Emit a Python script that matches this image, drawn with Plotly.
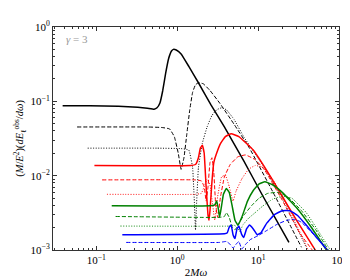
import numpy as np
import plotly.graph_objects as go

# log10(2Mω) and log10((M/E^2) dE/dω)
k_solid_lx = [-1.417, -1.083, -0.726, -0.488, -0.369, -0.286, -0.25, -0.214, -0.179, -0.143, -0.107, -0.071, -0.048, -0.012, 0.048, 0.143, 0.262, 0.417, 0.583, 0.821, 1.060, 1.381]
k_solid_ly = [-1.061, -1.061, -1.067, -1.080, -1.093, -1.106, -1.087, -1.022, -0.854, -0.621, -0.427, -0.323, -0.301, -0.310, -0.362, -0.530, -0.750, -1.048, -1.345, -1.798, -2.277, -2.898]

k_dash_lx = [-1.238, -0.369, -0.190, -0.095, -0.036, 0.012, 0.048, 0.083, 0.119, 0.155, 0.190, 0.226, 0.262, 0.321, 0.405, 0.524, 0.702, 0.893, 1.179, 1.536]
k_dash_ly = [-1.345, -1.345, -1.352, -1.371, -1.475, -1.695, -1.915, -1.759, -1.436, -1.113, -0.880, -0.776, -0.750, -0.763, -0.854, -1.022, -1.307, -1.630, -2.212, -2.963]

k_dot_lx = [-1.107, -0.25, 0.048, 0.143, 0.190, 0.214, 0.226, 0.238, 0.262, 0.310, 0.369, 0.429, 0.488, 0.548, 0.607, 0.702, 0.821, 1.060, 1.298, 1.595]
k_dot_ly = [-1.630, -1.630, -1.636, -1.656, -1.889, -2.406, -2.730, -2.406, -1.889, -1.565, -1.345, -1.190, -1.113, -1.087, -1.113, -1.242, -1.475, -1.863, -2.303, -2.963]

r_solid_lx = [-1.024, 0.167, 0.226, 0.262, 0.286, 0.310, 0.333, 0.357, 0.381, 0.393, 0.405, 0.429, 0.452, 0.488, 0.536, 0.595, 0.667, 0.762, 0.940, 1.119, 1.298, 1.476, 1.714]
r_solid_ly = [-1.863, -1.863, -1.850, -1.759, -1.630, -1.591, -1.695, -2.147, -2.536, -2.600, -2.471, -2.083, -1.824, -1.695, -1.565, -1.475, -1.436, -1.475, -1.656, -1.953, -2.277, -2.600, -3.014]

r_dash_lx = [-0.929, 0.226, 0.298, 0.333, 0.357, 0.381, 0.405, 0.429, 0.452, 0.476, 0.5, 0.536, 0.583, 0.655, 0.75, 0.845, 0.964, 1.083, 1.298, 1.512, 1.679]
r_dash_ly = [-2.057, -2.057, -2.070, -2.147, -2.342, -2.147, -1.824, -1.759, -1.953, -2.406, -2.561, -2.277, -2.018, -1.850, -1.746, -1.721, -1.785, -1.928, -2.329, -2.768, -3.014]

r_dot_lx = [-0.869, 0.226, 0.298, 0.333, 0.369, 0.405, 0.440, 0.464, 0.5, 0.548, 0.595, 0.643, 0.690, 0.726, 0.798, 0.881, 0.964, 1.060, 1.179, 1.393, 1.619]
r_dot_ly = [-2.251, -2.251, -2.238, -2.147, -2.044, -2.122, -2.406, -2.600, -2.277, -2.018, -1.992, -2.147, -2.342, -2.212, -2.044, -1.915, -1.863, -1.889, -2.044, -2.471, -3.001]

g_solid_lx = [-0.810, 0.405, 0.464, 0.488, 0.512, 0.524, 0.548, 0.571, 0.607, 0.643, 0.679, 0.714, 0.75, 0.798, 0.869, 0.940, 1.012, 1.083, 1.179, 1.298, 1.476, 1.655, 1.845]
g_solid_ly = [-2.406, -2.406, -2.393, -2.342, -2.471, -2.561, -2.406, -2.251, -2.173, -2.225, -2.406, -2.600, -2.665, -2.561, -2.342, -2.199, -2.109, -2.083, -2.122, -2.225, -2.432, -2.691, -3.001]

g_dash_lx = [-0.762, 0.524, 0.583, 0.607, 0.643, 0.679, 0.714, 0.762, 0.821, 0.917, 1.012, 1.119, 1.238, 1.357, 1.536, 1.714, 1.869]
g_dash_ly = [-2.549, -2.561, -2.549, -2.497, -2.561, -2.691, -2.730, -2.639, -2.536, -2.406, -2.303, -2.238, -2.225, -2.277, -2.471, -2.730, -3.001]

g_dot_lx = [-0.702, 0.643, 0.702, 0.738, 0.774, 0.810, 0.881, 0.964, 1.060, 1.179, 1.298, 1.417, 1.595, 1.774, 1.893]
g_dot_ly = [-2.678, -2.678, -2.665, -2.691, -2.756, -2.665, -2.574, -2.497, -2.406, -2.316, -2.277, -2.303, -2.497, -2.794, -3.001]

b_solid_lx = [-0.679, 0.583, 0.619, 0.643, 0.667, 0.690, 0.714, 0.738, 0.762, 0.798, 0.821, 0.857, 0.893, 0.940, 0.988, 1.036, 1.107, 1.202, 1.298, 1.393, 1.488, 1.595, 1.714, 1.857]
b_solid_ly = [-2.794, -2.781, -2.768, -2.691, -2.665, -2.794, -2.846, -2.717, -2.678, -2.794, -2.833, -2.717, -2.665, -2.717, -2.794, -2.768, -2.639, -2.523, -2.471, -2.471, -2.536, -2.665, -2.820, -3.001]

b_dash_lx = [-0.631, 0.524, 0.607, 0.655, 0.690, 0.726, 0.762, 0.798, 0.845, 0.905, 1.0, 1.119, 1.238, 1.357, 1.452, 1.536, 1.655, 1.774, 1.869]
b_dash_ly = [-2.898, -2.898, -2.885, -2.924, -2.975, -2.924, -2.885, -2.988, -2.924, -2.859, -2.807, -2.730, -2.652, -2.600, -2.587, -2.626, -2.756, -2.898, -3.014]

x_tickvals = [0.1, 1, 10, 100]
x_ticktext = ["10<sup>−1</sup>", "10<sup>0</sup>", "10<sup>1</sup>", "10<sup>2</sup>"]
y_tickvals = [0.001, 0.01, 0.1, 1]
y_ticktext = ["10<sup>−3</sup>", "10<sup>−2</sup>", "10<sup>−1</sup>", "10<sup>0</sup>"]

series = [
    (k_solid_lx, k_solid_ly, "black", "solid", 1.5),
    (k_dash_lx, k_dash_ly, "black", "4px,2px", 1.0),
    (k_dot_lx, k_dot_ly, "black", "1px,1.6px", 1.0),
    (r_solid_lx, r_solid_ly, "#ff0000", "solid", 1.5),
    (r_dash_lx, r_dash_ly, "#ff0000", "4px,2px", 1.0),
    (r_dot_lx, r_dot_ly, "#ff0000", "1px,1.6px", 1.0),
    (g_solid_lx, g_solid_ly, "#008000", "solid", 1.5),
    (g_dash_lx, g_dash_ly, "#008000", "4px,2px", 1.0),
    (g_dot_lx, g_dot_ly, "#008000", "1px,1.6px", 1.0),
    (b_solid_lx, b_solid_ly, "#0000ff", "solid", 1.5),
    (b_dash_lx, b_dash_ly, "#0000ff", "4px,2px", 1.0),
]

fig = go.Figure()
for lx, ly, col, dash, w in series:
    fig.add_trace(go.Scatter(
        x=10 ** np.array(lx), y=10 ** np.array(ly), mode="lines",
        line=dict(color=col, dash=dash, width=w, shape="spline", smoothing=0.3),
        showlegend=False, hoverinfo="skip"))

font = "Liberation Serif, DejaVu Serif, serif"
axis_common = dict(
    type="log", showgrid=False, zeroline=False, showline=True, linecolor="#333",
    linewidth=1, mirror="allticks", ticks="inside", ticklen=4, tickcolor="#333",
    tickfont=dict(family=font, size=11, color="black"),
    minor=dict(ticks="inside", ticklen=2, tickcolor="#333", dtick="D1", showgrid=False),
)
fig.update_xaxes(**axis_common, range=[-1.536, 2], tickvals=x_tickvals, ticktext=x_ticktext,
                 title=dict(text="2<i>Mω</i>", font=dict(family=font, size=11, color="black"), standoff=3))
fig.update_yaxes(**axis_common, range=[-3, 0], tickvals=y_tickvals, ticktext=y_ticktext,
                 title=dict(text="(<i>M</i>/<i>E</i><sup>2</sup>)(<i>dE</i><sub>ℓ</sub><sup>obs</sup>/<i>dω</i>)",
                            font=dict(family=font, size=10.5, color="black"), standoff=4))

fig.add_annotation(xref="paper", yref="paper", x=0.04, y=0.945, xanchor="left", yanchor="middle",
                   text="<i>γ</i> = 3", showarrow=False, font=dict(family=font, size=11, color="#999"))

fig.update_layout(width=350, height=280, margin=dict(l=42, r=11, t=14, b=34),
                  plot_bgcolor="white", paper_bgcolor="white")
fig.write_html("out.html")
